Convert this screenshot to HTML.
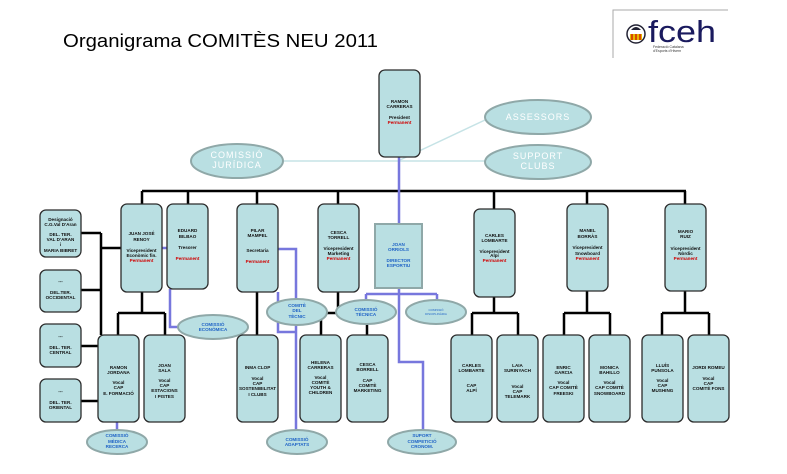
<!DOCTYPE html>
<html><head><meta charset="utf-8"><style>
html,body{margin:0;padding:0;background:#fff;}
svg{display:block;}
text{font-family:"Liberation Sans",sans-serif;}
.b{fill:#b9dfe2;stroke:#2b2b2b;stroke-width:1.3;}
.e{fill:#b9dfe2;stroke:#8fa8a8;stroke-width:2;}
.t{font-size:4.6px;font-weight:bold;fill:#111;text-anchor:middle;}
.r{fill:#d00000;}
.bl{font-size:4.6px;font-weight:bold;fill:#1f63c6;text-anchor:middle;}
.w{font-size:9px;fill:#fff;text-anchor:middle;letter-spacing:1px;}
.k{stroke:#000;stroke-width:2.5;fill:none;}
.p{stroke:#7777dd;stroke-width:2.5;fill:none;}
</style></head><body>
<svg width="787" height="474" viewBox="0 0 787 474" xmlns="http://www.w3.org/2000/svg">
<text x="63" y="47" font-size="18" textLength="315" lengthAdjust="spacingAndGlyphs">Organigrama COMITÈS NEU 2011</text>
<!-- logo -->
<path d="M613 58 V10 H728" stroke="#aaa" stroke-width="1" fill="none"/>
<circle cx="636" cy="34" r="9" fill="#fff" stroke="#223" stroke-width="1.5"/>
<rect x="630" y="34" width="12" height="6" fill="#e6b800"/>
<path d="M632 34v6M636 34v6M640 34v6" stroke="#c00" stroke-width="1.2"/>
<path d="M631 30 q5 -6 10 0z" fill="#223"/>
<text x="648" y="42" font-size="31" fill="#1a1a5e" textLength="68" lengthAdjust="spacingAndGlyphs">fceh</text>
<text x="653" y="48" font-size="3.5" fill="#333">Federació Catalana</text>
<text x="653" y="52" font-size="3.5" fill="#333">d'Esports d'Hivern</text>

<!-- light lines -->
<line x1="284" y1="161" x2="485" y2="161" stroke="#c6e3e6" stroke-width="1.5"/>
<line x1="400" y1="160" x2="485" y2="120" stroke="#c6e3e6" stroke-width="1.5"/>

<!-- black connectors -->
<path class="k" d="M142 191 H686 M142 191V204 M188 191V204 M257 191V204 M338 191V204 M494 191V209 M587 191V204 M685 191V204"/>
<path class="k" d="M81 233H101 M81 290H101 M101 233V335 M101 248H121 M81 346H98 M81 401H98"/>
<path class="k" d="M142 292V313 M118 313H165 M118 313V335 M165 313V335 M257 292V335 M338 292V313 M321 313H367 M321 313V335 M367 313V335"/>
<path class="k" d="M494 297V313 M472 313H518 M472 313V335 M518 313V335 M587 291V313 M564 313H610 M564 313V335 M610 313V335 M685 291V313 M662 313H709 M662 313V335 M709 313V335"/>

<!-- purple -->
<path class="p" d="M399 157V224 M399 288V362H423V432 M366 294H437 M366 294V300 M437 294V300"/>
<path class="p" d="M162 248H167 M170 289V327H180 M278 249H296V432 M278 292V332H296 M117 422V432"/>

<!-- ellipses -->
<ellipse class="e" cx="538" cy="117" rx="53" ry="17"/>
<text class="w" x="538" y="120">ASSESSORS</text>
<ellipse class="e" cx="538" cy="162" rx="53" ry="17"/>
<text class="w" x="538" y="159">SUPPORT</text><text class="w" x="538" y="169">CLUBS</text>
<ellipse class="e" cx="237" cy="161" rx="46" ry="17"/>
<text class="w" x="237" y="158">COMISSIÓ</text><text class="w" x="237" y="168">JURÍDICA</text>

<ellipse class="e" cx="213" cy="327" rx="35" ry="12"/>
<text class="bl" x="213" y="326">COMISSIÓ</text><text class="bl" x="213" y="331">ECONÒMICA</text>
<ellipse class="e" cx="297" cy="312" rx="30" ry="13"/>
<text class="bl" x="297" y="307">COMITÈ</text><text class="bl" x="297" y="312">DEL</text><text class="bl" x="297" y="318">TÈCNIC</text>
<ellipse class="e" cx="366" cy="312" rx="30" ry="12"/>
<text class="bl" x="366" y="311">COMISSIÓ</text><text class="bl" x="366" y="316">TÈCNICA</text>
<ellipse class="e" cx="436" cy="312" rx="30" ry="12"/>
<text class="bl" x="436" y="311" style="font-size:3px;font-weight:normal">COMISSIÓ</text><text class="bl" x="436" y="315" style="font-size:3px;font-weight:normal">DISCIPLINÀRIA</text>
<ellipse class="e" cx="117" cy="442" rx="30" ry="12"/>
<text class="bl" x="117" y="437">COMISSIÓ</text><text class="bl" x="117" y="443">MÈDICA</text><text class="bl" x="117" y="448">RECERCA</text>
<ellipse class="e" cx="297" cy="442" rx="30" ry="12"/>
<text class="bl" x="297" y="441">COMISSIÓ</text><text class="bl" x="297" y="446">ADAPTATS</text>
<ellipse class="e" cx="422" cy="442" rx="34" ry="12"/>
<text class="bl" x="422" y="437">SUPORT</text><text class="bl" x="422" y="443">COMPETICIÓ</text><text class="bl" x="422" y="448">CRONOM.</text>

<!-- top -->
<rect class="b" x="379" y="70" width="41" height="87" rx="6"/>
<text class="t" x="399.5" y="103">RAMON</text><text class="t" x="399.5" y="108">CARRERAS</text>
<text class="t" x="399.5" y="119">President</text><text class="t r" x="399.5" y="124">Permanent</text>

<!-- level 1 -->
<rect class="b" x="121" y="204" width="41" height="88" rx="6"/>
<text class="t" x="141.5" y="235">JUAN JOSÉ</text><text class="t" x="141.5" y="241">RENOY</text>
<text class="t" x="141.5" y="252">Vicepresident</text><text class="t" x="141.5" y="257">Econòmic fin.</text><text class="t r" x="141.5" y="262">Permanent</text>
<rect class="b" x="167" y="204" width="41" height="85" rx="6"/>
<text class="t" x="187.5" y="232">EDUARD</text><text class="t" x="187.5" y="238">BILBAO</text>
<text class="t" x="187.5" y="249">Tresorer</text><text class="t r" x="187.5" y="260">Permanent</text>
<rect class="b" x="237" y="204" width="41" height="88" rx="6"/>
<text class="t" x="257.5" y="232">PILAR</text><text class="t" x="257.5" y="237">MAMPEL</text>
<text class="t" x="257.5" y="252">Secretaria</text><text class="t r" x="257.5" y="263">Permanent</text>
<rect class="b" x="318" y="204" width="41" height="88" rx="6"/>
<text class="t" x="338.5" y="234">CESCA</text><text class="t" x="338.5" y="239">TORRELL</text>
<text class="t" x="338.5" y="250">Vicepresident</text><text class="t" x="338.5" y="255">Marketing</text><text class="t r" x="338.5" y="260">Permanent</text>
<rect x="375" y="224" width="47" height="64" fill="#b9dfe2" stroke="#8fa8a8" stroke-width="2"/>
<text class="bl" x="398.5" y="246">JOAN</text><text class="bl" x="398.5" y="251">ORRIOLS</text>
<text class="bl" x="398.5" y="262">DIRECTOR</text><text class="bl" x="398.5" y="267">ESPORTIU</text>
<rect class="b" x="474" y="209" width="41" height="88" rx="6"/>
<text class="t" x="494.5" y="237">CARLES</text><text class="t" x="494.5" y="242">LOMBARTE</text>
<text class="t" x="494.5" y="253">Vicepresident</text><text class="t" x="494.5" y="257">Alpí</text><text class="t r" x="494.5" y="262">Permanent</text>
<rect class="b" x="567" y="204" width="41" height="87" rx="6"/>
<text class="t" x="587.5" y="232">MANEL</text><text class="t" x="587.5" y="238">BORRÀS</text>
<text class="t" x="587.5" y="249">Vicepresident</text><text class="t" x="587.5" y="255">Snowboard</text><text class="t r" x="587.5" y="260">Permanent</text>
<rect class="b" x="665" y="204" width="41" height="87" rx="6"/>
<text class="t" x="685.5" y="233">MARIO</text><text class="t" x="685.5" y="238">RUIZ</text>
<text class="t" x="685.5" y="250">Vicepresident</text><text class="t" x="685.5" y="255">Nòrdic</text><text class="t r" x="685.5" y="260">Permanent</text>

<!-- left boxes -->
<rect class="b" x="40" y="210" width="41" height="47" rx="6"/>
<text class="t" x="60.5" y="221">Designació</text><text class="t" x="60.5" y="226">C.G.Val D'Aran</text>
<text class="t" x="60.5" y="236">DEL. TER.</text><text class="t" x="60.5" y="241">VAL D'ARAN</text><text class="t" x="60.5" y="246">i</text><text class="t" x="60.5" y="252">MARIA BIBRET</text>
<rect class="b" x="40" y="270" width="41" height="42" rx="6"/>
<text class="t" x="60.5" y="283">---</text><text class="t" x="60.5" y="294">DEL.TER.</text><text class="t" x="60.5" y="299">OCCIDENTAL</text>
<rect class="b" x="40" y="324" width="41" height="43" rx="6"/>
<text class="t" x="60.5" y="338">---</text><text class="t" x="60.5" y="349">DEL. TER.</text><text class="t" x="60.5" y="354">CENTRAL</text>
<rect class="b" x="40" y="379" width="41" height="43" rx="6"/>
<text class="t" x="60.5" y="393">---</text><text class="t" x="60.5" y="404">DEL. TER.</text><text class="t" x="60.5" y="409">ORIENTAL</text>

<!-- level 2 -->
<rect class="b" x="98" y="335" width="41" height="87" rx="6"/>
<text class="t" x="118.5" y="369">RAMON</text><text class="t" x="118.5" y="374">JORDANA</text><text class="t" x="118.5" y="384">Vocal</text><text class="t" x="118.5" y="389">CAP</text><text class="t" x="118.5" y="395">E. FORMACIÓ</text>
<rect class="b" x="144" y="335" width="41" height="87" rx="6"/>
<text class="t" x="164.5" y="367">JOAN</text><text class="t" x="164.5" y="372">SALA</text><text class="t" x="164.5" y="382">Vocal</text><text class="t" x="164.5" y="387">CAP</text><text class="t" x="164.5" y="392">ESTACIONS</text><text class="t" x="164.5" y="398">I PISTES</text>
<rect class="b" x="237" y="335" width="41" height="87" rx="6"/>
<text class="t" x="257.5" y="369">INMA CLOP</text><text class="t" x="257.5" y="380">Vocal</text><text class="t" x="257.5" y="385">CAP</text><text class="t" x="257.5" y="390">SOSTENIBILITAT</text><text class="t" x="257.5" y="396">I CLUBS</text>
<rect class="b" x="300" y="335" width="41" height="87" rx="6"/>
<text class="t" x="320.5" y="364">HELENA</text><text class="t" x="320.5" y="369">CARRERAS</text><text class="t" x="320.5" y="379">Vocal</text><text class="t" x="320.5" y="384">COMITÈ</text><text class="t" x="320.5" y="389">YOUTH &amp;</text><text class="t" x="320.5" y="394">CHILDREN</text>
<rect class="b" x="347" y="335" width="41" height="87" rx="6"/>
<text class="t" x="367.5" y="366">CESCA</text><text class="t" x="367.5" y="371">BORRELL</text><text class="t" x="367.5" y="382">CAP</text><text class="t" x="367.5" y="387">COMITÈ</text><text class="t" x="367.5" y="392">MARKETING</text>
<rect class="b" x="451" y="335" width="41" height="87" rx="6"/>
<text class="t" x="471.5" y="367">CARLES</text><text class="t" x="471.5" y="372">LOMBARTE</text><text class="t" x="471.5" y="387">CAP</text><text class="t" x="471.5" y="392">ALPÍ</text>
<rect class="b" x="497" y="335" width="41" height="87" rx="6"/>
<text class="t" x="517.5" y="367">LAIA</text><text class="t" x="517.5" y="372">SURINYACH</text><text class="t" x="517.5" y="388">Vocal</text><text class="t" x="517.5" y="393">CAP</text><text class="t" x="517.5" y="398">TELEMARK</text>
<rect class="b" x="543" y="335" width="41" height="87" rx="6"/>
<text class="t" x="563.5" y="369">ENRIC</text><text class="t" x="563.5" y="374">GARCIA</text><text class="t" x="563.5" y="384">Vocal</text><text class="t" x="563.5" y="389">CAP COMITÈ</text><text class="t" x="563.5" y="395">FREESKI</text>
<rect class="b" x="589" y="335" width="41" height="87" rx="6"/>
<text class="t" x="609.5" y="369">MONICA</text><text class="t" x="609.5" y="374">BAHILLO</text><text class="t" x="609.5" y="384">Vocal</text><text class="t" x="609.5" y="389">CAP COMITÈ</text><text class="t" x="609.5" y="395">SNOWBOARD</text>
<rect class="b" x="642" y="335" width="41" height="87" rx="6"/>
<text class="t" x="662.5" y="367">LLUÍS</text><text class="t" x="662.5" y="372">PUNSOLA</text><text class="t" x="662.5" y="382">Vocal</text><text class="t" x="662.5" y="387">CAP</text><text class="t" x="662.5" y="392">MUSHING</text>
<rect class="b" x="688" y="335" width="41" height="87" rx="6"/>
<text class="t" x="708.5" y="369">JORDI ROMEU</text><text class="t" x="708.5" y="380">Vocal</text><text class="t" x="708.5" y="385">CAP</text><text class="t" x="708.5" y="390">COMITÈ FONS</text>
</svg>
</body></html>
